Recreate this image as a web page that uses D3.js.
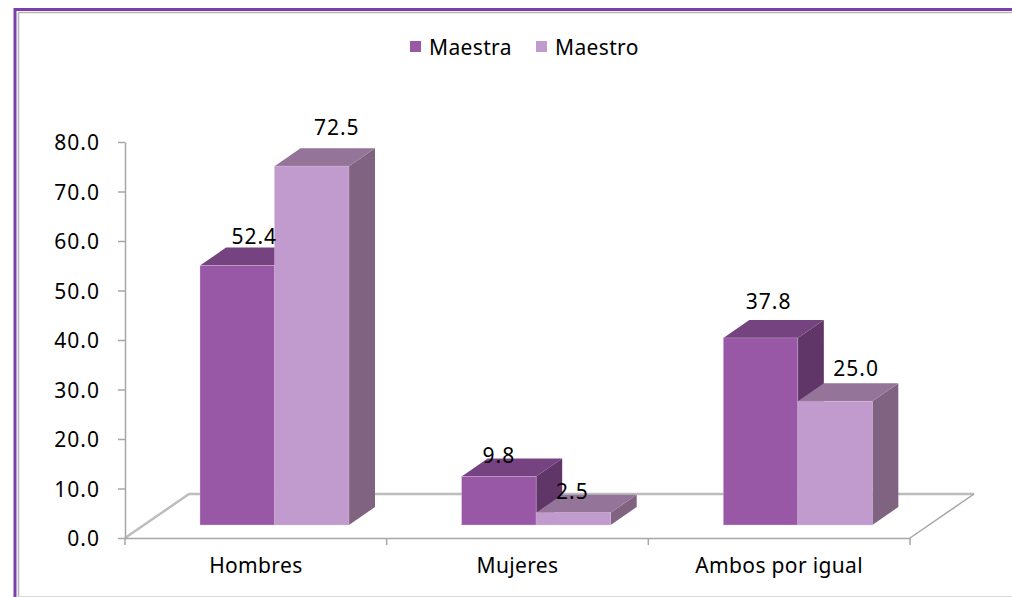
<!DOCTYPE html>
<html>
<head>
<meta charset="utf-8">
<script src="https://cdn.jsdelivr.net/npm/d3@7"></script>
<style>
  html, body { margin: 0; padding: 0; background: #fff; }
  svg { display: block; }
  text { font-family: "Noto Sans", sans-serif; fill: #000; letter-spacing: 1px; }
  .word, .xaxis text { letter-spacing: 0.35px; }
</style>
</head>
<body>
<svg id="chart"></svg>
<script>
const categories = ['Hombres', 'Mujeres', 'Ambos por igual']
const seriesNames = ['Maestra', 'Maestro']
const maestra = [52.4, 9.8, 37.8]
const maestro = [72.5, 2.5, 25.0]
const yTicks = [0, 10, 20, 30, 40, 50, 60, 70, 80]

// face colours per series
const front = ['#9958a5', '#c29bce']
const top3d = ['#75437f', '#957499']
const side = ['#603568', '#7f6381']

// the labels in the original were nudged by hand, not placed by a rule
const labelNudge = [
  [[4, -22], [12, -31]],
  [[-13, -13], [-14, -14]],
  [[-5, -29], [8, -25]]
]

const fontSize = 21
const width = 1012
const height = 597
const svg = d3.select('#chart').attr('width', width).attr('height', height)

// frame
svg.append('line').attr('x1', 15).attr('x2', 15).attr('y1', 8).attr('y2', height).attr('stroke', '#7b3fa8').attr('stroke-width', 3)
svg.append('line').attr('x1', 14).attr('x2', width).attr('y1', 9.5).attr('y2', 9.5).attr('stroke', '#7b3fa8').attr('stroke-width', 3)
svg.append('line').attr('x1', 18.5).attr('x2', 18.5).attr('y1', 13).attr('y2', height).attr('stroke', '#b5b5b5').attr('stroke-width', 1.5)
svg.append('line').attr('x1', 18).attr('x2', width).attr('y1', 12.5).attr('y2', 12.5).attr('stroke', '#b5b5b5').attr('stroke-width', 1.5)
svg.append('line').attr('x1', 18).attr('x2', width).attr('y1', 596.5).attr('y2', 596.5).attr('stroke', '#d9d9d9').attr('stroke-width', 1)

const x0 = d3.scaleBand().domain(categories).range([125, 910])
const x1 = d3.scaleBand().domain(seriesNames).range([0, 149])
const y = d3.scaleLinear().domain([0, 80]).range([538, 142])

const barInset = 75
const barLift = 13
const depth = { x: 26, y: 18 }
const floorDepth = { x: 64, y: 44 }
const gray = '#a6a6a6'

// floor, drawn before the bars
svg.append('path')
  .attr('d', `M${x0.range()[0]},${y(0)}L${x0.range()[0] + floorDepth.x},${y(0) - floorDepth.y}L${x0.range()[1] + floorDepth.x},${y(0) - floorDepth.y}`)
  .attr('fill', 'none').attr('stroke', '#bdbdbd').attr('stroke-width', 2.5)
svg.append('path')
  .attr('d', `M${x0.range()[1] + floorDepth.x},${y(0) - floorDepth.y}L${x0.range()[1]},${y(0)}`)
  .attr('fill', 'none').attr('stroke', gray).attr('stroke-width', 1.5)

// axes
const yAxis = d3.axisLeft(y).tickValues(yTicks).tickFormat(d3.format('.1f')).tickSize(7).tickSizeOuter(0).tickPadding(18)
const gy = svg.append('g').attr('transform', `translate(${x0.range()[0]},0)`).call(yAxis)
const xAxis = d3.axisBottom(x0).tickSize(0).tickPadding(20)
const gx = svg.append('g').attr('class', 'xaxis').attr('transform', `translate(0,${y(0)})`).call(xAxis)
gx.selectAll('.tick line').remove()
gx.selectAll('.edge')
  .data([0, 1, 2, 3])
  .join('line')
  .attr('x1', (d) => x0.range()[0] + d * x0.bandwidth())
  .attr('x2', (d) => x0.range()[0] + d * x0.bandwidth())
  .attr('y1', 0).attr('y2', 7)
  .attr('stroke', gray).attr('stroke-width', 1.5)
svg.selectAll('.domain, .tick line').attr('stroke', gray).attr('stroke-width', 1.5)
svg.selectAll('.tick text').attr('font-size', fontSize).style('font-family', '"Noto Sans", sans-serif').attr('fill', '#000')
gy.selectAll('.tick text').attr('dy', '0.38em')

// bars
const values = [maestra, maestro]
const base = y(0) - barLift
values.forEach((vals, s) => {
  const bars = svg.append('g').selectAll('g')
    .data(categories)
    .join('g')
    .attr('transform', (d) => `translate(${x0(d) + barInset + x1(seriesNames[s])},0)`)
  const w = x1.bandwidth()
  const barTop = (i) => base - (y(0) - y(vals[i]))
  bars.append('path')
    .attr('fill', side[s])
    .attr('d', (d, i) => `M${w},${barTop(i)}L${w + depth.x},${barTop(i) - depth.y}L${w + depth.x},${base - depth.y}L${w},${base}Z`)
  bars.append('path')
    .attr('fill', top3d[s])
    .attr('d', (d, i) => `M0,${barTop(i)}L${depth.x},${barTop(i) - depth.y}L${w + depth.x},${barTop(i) - depth.y}L${w},${barTop(i)}Z`)
  bars.append('rect')
    .attr('fill', front[s])
    .attr('stroke', '#d9c3de')
    .attr('stroke-opacity', 0.6)
    .attr('stroke-width', 0.6)
    .attr('x', 0)
    .attr('y', (d, i) => barTop(i))
    .attr('width', w)
    .attr('height', (d, i) => y(0) - y(vals[i]))
})

// value labels on top of every bar
values.forEach((vals, s) => {
  svg.append('g').selectAll('text')
    .data(vals)
    .join('text')
    .attr('font-size', fontSize)
    .attr('text-anchor', 'middle')
    .attr('x', (d, i) => x0(categories[i]) + barInset + x1(seriesNames[s]) + x1.bandwidth() / 2 + depth.x / 2 + labelNudge[i][s][0])
    .attr('y', (d, i) => base - (y(0) - y(d)) + labelNudge[i][s][1])
    .text((d) => d.toFixed(1))
})

// legend
const legendX = d3.scalePoint().domain(seriesNames).range([410, 536])
const legend = svg.append('g').selectAll('g')
  .data(seriesNames)
  .join('g')
  .attr('transform', (d) => `translate(${legendX(d)},41)`)
legend.append('rect').attr('width', 11).attr('height', 11).attr('fill', (d, i) => front[i])
legend.append('text').attr('class', 'word').attr('x', 19).attr('y', 14).attr('font-size', fontSize).text((d) => d)
</script>
</body>
</html>
